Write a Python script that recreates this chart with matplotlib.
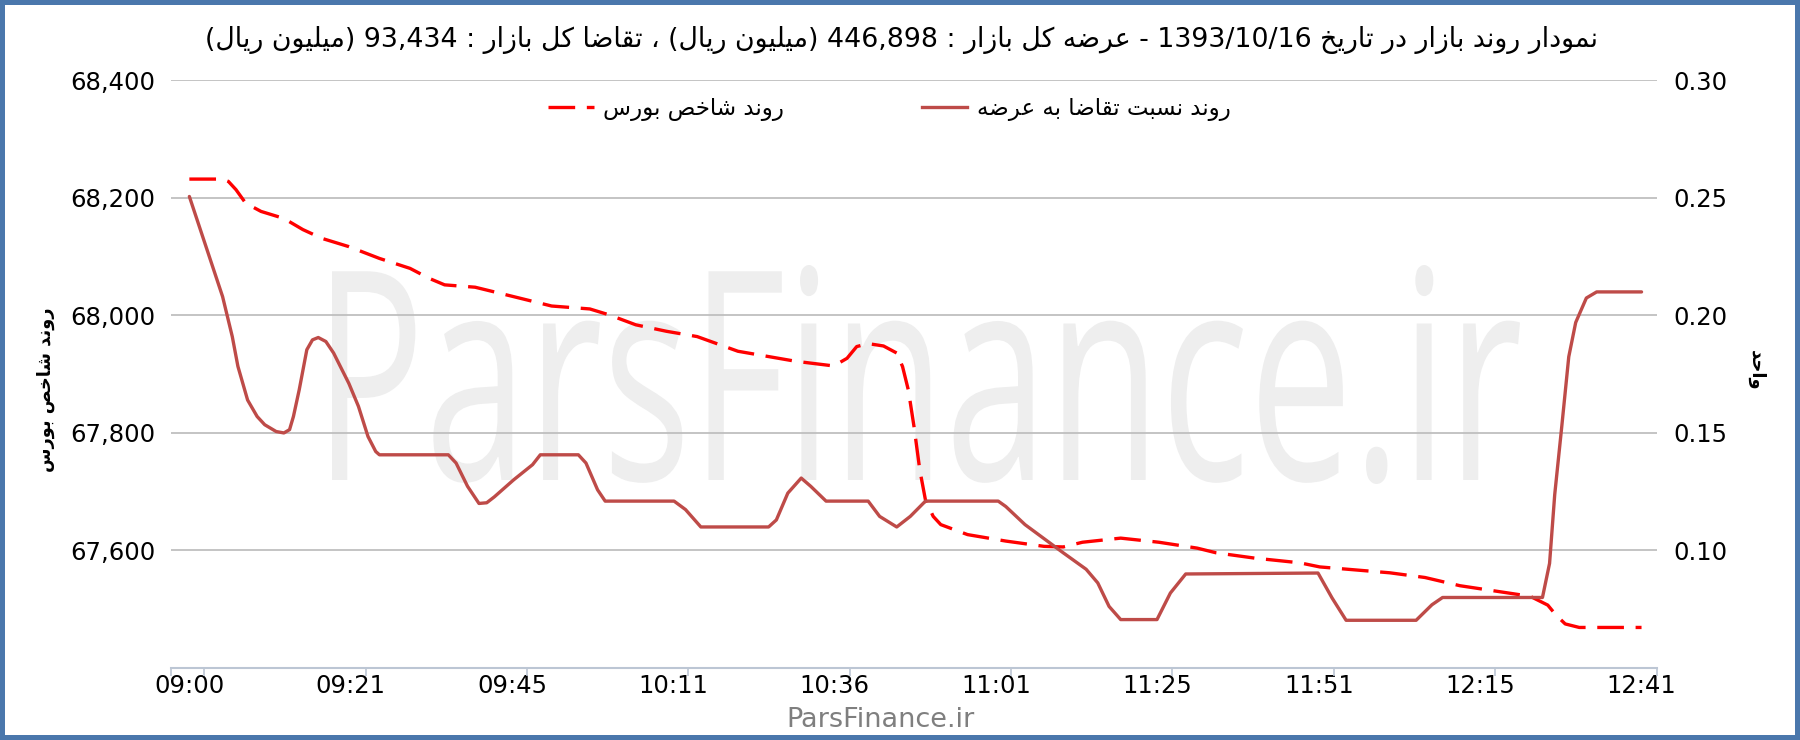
import re
import matplotlib
matplotlib.use("Agg")
import matplotlib.pyplot as plt
from matplotlib.lines import Line2D
from matplotlib.textpath import TextPath
from matplotlib.patches import PathPatch
from matplotlib.font_manager import FontProperties
from matplotlib.transforms import Affine2D

# category labels on the time axis (evenly spaced categories)
time_labels = ['09:00', '09:21', '09:45', '10:11', '10:36',
               '11:01', '11:25', '11:51', '12:15', '12:41']

# market index trend (left axis), x = position along the category axis
index_pos = [0.0, 0.206, 0.242, 0.289, 0.349, 0.444, 0.586, 0.704, 0.823, 0.989,
             1.178, 1.368, 1.487, 1.582, 1.771, 2.009, 2.245, 2.482, 2.601, 2.767,
             2.957, 3.147, 3.40, 3.757, 3.994, 4.076, 4.136, 4.207, 4.302, 4.384,
             4.42, 4.456, 4.491, 4.527, 4.562, 4.61, 4.657, 4.823, 5.06, 5.297,
             5.416, 5.535, 5.772, 6.009, 6.246, 6.364, 6.602, 6.882, 7.006, 7.44,
             7.658, 7.875, 8.093, 8.31, 8.419, 8.47, 8.527, 8.614, 9.0]
index_val = [68232, 68232, 68228, 68214, 68191, 68177, 68165, 68146, 68131, 68117,
             68097, 68080, 68063, 68052, 68048, 68032, 68016, 68011, 68001, 67984,
             67973, 67964, 67939, 67922, 67914, 67927, 67947, 67952, 67948, 67936,
             67913, 67873, 67811, 67737, 67686, 67658, 67644, 67627, 67616, 67607,
             67606, 67614, 67621, 67614, 67604, 67596, 67587, 67579, 67572, 67562,
             67554, 67540, 67531, 67522, 67507, 67490, 67475, 67469, 67469]

# demand / supply ratio (right axis)
ratio_pos = [0.0, 0.206, 0.266, 0.301, 0.361, 0.42, 0.467, 0.538, 0.586, 0.621,
             0.645, 0.681, 0.728, 0.763, 0.799, 0.846, 0.894, 0.989, 1.048, 1.107,
             1.155, 1.178, 1.605, 1.653, 1.724, 1.795, 1.843, 1.89, 2.009, 2.127,
             2.175, 2.411, 2.458, 2.53, 2.577, 3.004, 3.075, 3.17, 3.59, 3.638,
             3.709, 3.792, 3.851, 3.946, 4.207, 4.278, 4.384, 4.468, 4.562, 5.013,
             5.06, 5.179, 5.416, 5.558, 5.63, 5.7, 5.772, 5.997, 6.08, 6.175,
             6.995, 7.082, 7.169, 7.603, 7.701, 7.767, 8.386, 8.43, 8.462, 8.506,
             8.549, 8.592, 8.658, 8.722, 9.0]
ratio_val = [0.2506, 0.208, 0.191, 0.1783, 0.164, 0.157, 0.1535, 0.1506, 0.150, 0.1514,
             0.157, 0.1684, 0.1854, 0.1896, 0.1906, 0.1889, 0.184, 0.171, 0.1613, 0.1485,
             0.1421, 0.1407, 0.1407, 0.1372, 0.1273, 0.120, 0.1203, 0.1228, 0.130, 0.1365,
             0.1407, 0.1407, 0.1372, 0.1258, 0.121, 0.121, 0.1174, 0.110, 0.110, 0.113,
             0.1244, 0.1308, 0.1273, 0.121, 0.121, 0.1145, 0.110, 0.1145, 0.121, 0.121,
             0.1187, 0.111, 0.099, 0.092, 0.0862, 0.0762, 0.0706, 0.0706, 0.0819, 0.090,
             0.0904, 0.0798, 0.0703, 0.0703, 0.0769, 0.080, 0.080, 0.0945, 0.1238, 0.153,
             0.1824, 0.197, 0.2074, 0.210, 0.210]

left_ticks = [67600, 67800, 68000, 68200, 68400]
right_ticks = [0.10, 0.15, 0.20, 0.25, 0.30]

title_text = 'نمودار روند بازار در تاریخ 1393/10/16 - عرضه کل بازار : 446,898 (میلیون ریال) ، تقاضا کل بازار : 93,434 (میلیون ریال)'
index_name = 'روند شاخص بورس'
ratio_name = 'روند نسبت تقاضا به عرضه'
right_title = 'واحد'

# --- minimal Persian shaping + right-to-left ordering (matplotlib has no bidi) ---
FORMS = {
    'ا': ('\uFE8D', '\uFE8E', None, None),
    'ب': ('\uFE8F', '\uFE90', '\uFE91', '\uFE92'),
    'ت': ('\uFE95', '\uFE96', '\uFE97', '\uFE98'),
    'ح': ('\uFEA1', '\uFEA2', '\uFEA3', '\uFEA4'),
    'خ': ('\uFEA5', '\uFEA6', '\uFEA7', '\uFEA8'),
    'د': ('\uFEA9', '\uFEAA', None, None),
    'ر': ('\uFEAD', '\uFEAE', None, None),
    'ز': ('\uFEAF', '\uFEB0', None, None),
    'س': ('\uFEB1', '\uFEB2', '\uFEB3', '\uFEB4'),
    'ش': ('\uFEB5', '\uFEB6', '\uFEB7', '\uFEB8'),
    'ص': ('\uFEB9', '\uFEBA', '\uFEBB', '\uFEBC'),
    'ض': ('\uFEBD', '\uFEBE', '\uFEBF', '\uFEC0'),
    'ع': ('\uFEC9', '\uFECA', '\uFECB', '\uFECC'),
    'ق': ('\uFED5', '\uFED6', '\uFED7', '\uFED8'),
    'ك': ('\uFED9', '\uFEDA', '\uFEDB', '\uFEDC'),
    'ک': ('\uFB8E', '\uFB8F', '\uFB90', '\uFB91'),
    'ل': ('\uFEDD', '\uFEDE', '\uFEDF', '\uFEE0'),
    'م': ('\uFEE1', '\uFEE2', '\uFEE3', '\uFEE4'),
    'ن': ('\uFEE5', '\uFEE6', '\uFEE7', '\uFEE8'),
    'ه': ('\uFEE9', '\uFEEA', '\uFEEB', '\uFEEC'),
    'و': ('\uFEED', '\uFEEE', None, None),
    'ي': ('\uFEF1', '\uFEF2', '\uFEF3', '\uFEF4'),
    'ی': ('\uFBFC', '\uFBFD', '\uFBFE', '\uFBFF'),
}


def shape(s):
    out = []
    for i, ch in enumerate(s):
        f = FORMS.get(ch)
        if f is None:
            out.append(ch)
            continue
        prev = s[i - 1] if i > 0 else ''
        nxt = s[i + 1] if i + 1 < len(s) else ''
        jp = prev in FORMS and FORMS[prev][2] is not None
        jn = f[2] is not None and nxt in FORMS
        if jp and jn:
            out.append(f[3])
        elif jp:
            out.append(f[1])
        elif jn:
            out.append(f[2])
        else:
            out.append(f[0])
    return ''.join(out)


def rtl(s):
    parts = re.findall(r'\d[\d/,.]*\d|\d|\D+', shape(s))
    mirror = str.maketrans('()', ')(')
    vis = [p if p[0].isdigit() else p[::-1].translate(mirror) for p in parts]
    return ''.join(vis[::-1])


plt.rcParams['font.family'] = ['DejaVu Sans']

fig = plt.figure(figsize=(18, 7.4), dpi=100, facecolor='white',
                 edgecolor='#4A77AC', linewidth=6)
ax = fig.add_axes([0.0948, 0.0973, 0.9203 - 0.0948, 0.8914 - 0.0973])
ax2 = ax.twinx()

ax.plot(index_pos, index_val, color='#FF0000', lw=2.4, ls=(0, (8, 3.5)),
        dash_capstyle='butt', dash_joinstyle='round', zorder=3)
ax2.plot(ratio_pos, ratio_val, color='#BE4B48', lw=2.4,
         solid_joinstyle='round', solid_capstyle='round', zorder=3)

ax.set_xlim(-0.116, 9.093)
ax.set_ylim(67400, 68400)
ax2.set_ylim(0.05, 0.30)

ax.set_xticks(range(len(time_labels)))
ax.set_xticklabels(time_labels)
ax.set_xticks([-0.116] + [k + 0.093 for k in range(len(time_labels))], minor=True)
ax.tick_params(axis='x', which='major', length=0, pad=4, labelsize=17.5, labelcolor='black')
ax.tick_params(axis='x', which='minor', length=6, width=1.2, color='#BCC6D4', direction='out')

ax.set_yticks(left_ticks)
ax.set_yticklabels([f'{v:,}' for v in left_ticks])
ax.tick_params(axis='y', length=0, pad=11, labelsize=17.5, labelcolor='black')
ax2.set_yticks(right_ticks)
ax2.set_yticklabels([f'{v:.2f}' for v in right_ticks])
ax2.tick_params(axis='y', length=0, pad=12, labelsize=17.5, labelcolor='black')

ax.grid(axis='y', color='#BFBFBF', lw=1.3)
ax.grid(axis='x', visible=False)
for a in (ax, ax2):
    for side in ('left', 'right', 'top'):
        a.spines[side].set_visible(False)
ax.spines['bottom'].set_color('#BCC6D4')
ax.spines['bottom'].set_linewidth(1.5)
ax2.spines['bottom'].set_visible(False)

# big light watermark, squeezed to the box it fills in the picture
tp = TextPath((0, 0), 'ParsFinance.ir', size=100, prop=FontProperties(family='Open Sans'))
ext = tp.get_extents()
wx0, wx1 = 332 / 1800, 1520 / 1800
wy0, wy1 = (740 - 484) / 740, (740 - 265) / 740
tr = (Affine2D().translate(-ext.x0, -ext.y0)
      .scale((wx1 - wx0) / ext.width, (wy1 - wy0) / ext.height)
      .translate(wx0, wy0))
wm = PathPatch(tr.transform_path(tp), facecolor='#EEEEEE', lw=0,
               transform=fig.transFigure, zorder=0.3)
ax.add_artist(wm)

handles = [Line2D([], [], color='#FF0000', lw=2.4, ls=(0, (8, 3.5))),
           Line2D([], [], color='#BE4B48', lw=2.4)]
fig.legend(handles, [rtl(index_name), rtl(ratio_name)], loc='center',
           bbox_to_anchor=(0.494, 0.853), ncol=2, frameon=False, fontsize=16.5,
           handlelength=2.0, handletextpad=0.4, columnspacing=6.0)

fig.text(0.5006, 0.946, rtl(title_text), ha='center', va='center', fontsize=19.3, color='black')
fig.text(0.0256, 0.473, rtl(index_name), rotation=90, ha='center', va='center',
         fontsize=12.8, fontweight='bold', color='black')
fig.text(0.9756, 0.50, rtl(right_title), rotation=270, ha='center', va='center',
         fontsize=13, fontweight='bold', color='black')
fig.text(0.489, 0.027, 'ParsFinance.ir', ha='center', va='center', fontsize=19.5, color='#7F7F7F')

fig.savefig('out.png', dpi=100)
